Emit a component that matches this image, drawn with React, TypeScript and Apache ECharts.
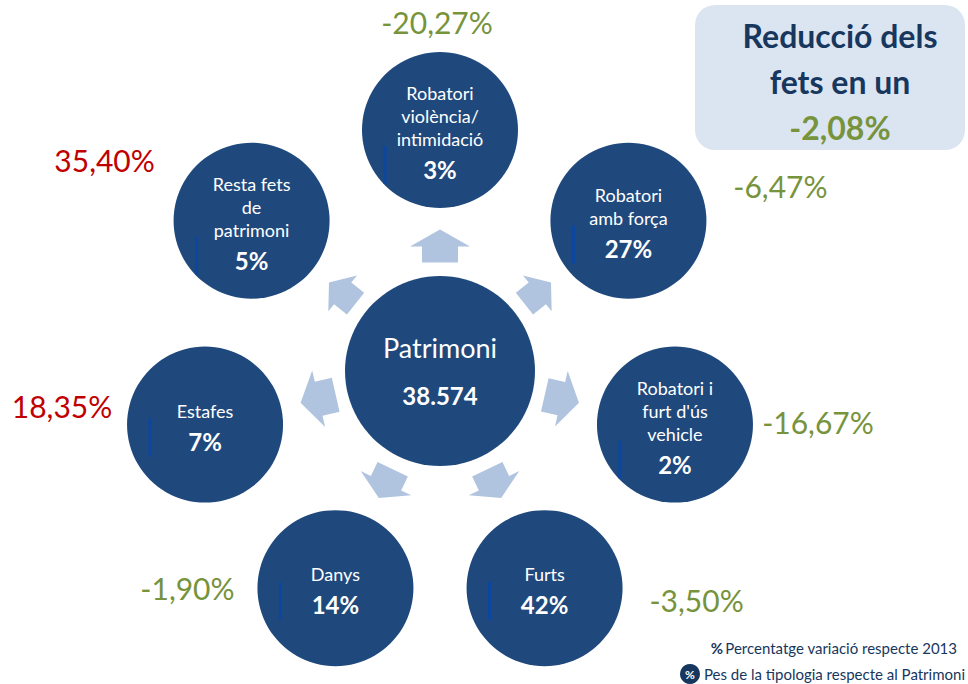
import React, { useEffect, useRef } from 'react';
import * as echarts from 'echarts';

// ---- data ----
const categories = [
  'Robatori\nviolència/\nintimidació',
  'Robatori\namb força',
  "Robatori i\nfurt d'ús\nvehicle",
  'Furts',
  'Danys',
  'Estafes',
  'Resta fets\nde\npatrimoni',
];
const shares = [3, 27, 2, 42, 14, 7, 5];
const changes = [-20.27, -6.47, -16.67, -3.5, -1.9, 18.35, 35.4];
const totalLabel = 'Patrimoni';
const totalFacts = 38574;
const totalChange = -2.08;
const boxTitle = ['Reducció dels', 'fets en un'];
const legendTexts = ['Percentatge variació respecte 2013', 'Pes de la tipologia respecte al Patrimoni'];

// ---- layout ----
const CENTER = [440, 371];
const RING = 241;
const ARROW_R = 125 / 241;
const ARROW_SIZES = [[60, 33], [46, 34], [57, 35], [56, 32], [56, 32], [58, 36], [46, 34]];
const CHANGE_OFFSETS = [[-3, -108], [152, -35], [143, -3], [152, 12], [-148, 0], [-143, -19], [-147, -61]];

const NAVY = '#1F497D';
const ARROW = '#B0C3DF';
const GREEN = '#77933C';
const RED = '#C00000';
const DARK = '#17375E';
const FONT = 'Lato, "Open Sans", sans-serif';

const fmtPct = (v: number) => v.toFixed(2).replace('.', ',') + '%';
const fmtThousands = (n: number) => String(n).replace(/\B(?=(\d{3})+(?!\d))/g, '.');

export default function App() {
  const ref = useRef<HTMLDivElement>(null);
  useEffect(() => {
    if (!ref.current) return;
    const chart = echarts.init(ref.current, undefined, { renderer: 'svg' });
    const step = 360 / categories.length;

    const option: any = {
      animation: false,
      backgroundColor: '#ffffff',
      polar: { center: CENTER, radius: RING },
      angleAxis: {
        type: 'category',
        data: categories,
        boundaryGap: false,
        startAngle: 90,
        clockwise: true,
        show: false,
      },
      radiusAxis: { type: 'value', min: 0, max: 1, show: false },
      series: [
        {
          name: 'arrows',
          type: 'scatter',
          coordinateSystem: 'polar',
          silent: true,
          symbol: 'path://M30,0 L60,17 L48,17 L48,33 L12,33 L12,17 L0,17 Z',
          itemStyle: { color: ARROW, opacity: 1 },
          data: categories.map((_, i) => ({
            value: [ARROW_R, i],
            symbolSize: ARROW_SIZES[i],
            symbolRotate: -i * step,
          })),
        },
        {
          name: 'tipologies',
          type: 'scatter',
          coordinateSystem: 'polar',
          silent: true,
          symbol: 'circle',
          symbolSize: 156,
          itemStyle: { color: NAVY, opacity: 1 },
          label: {
            show: true,
            position: 'inside',
            offset: [0, 5],
            color: '#ffffff',
            fontFamily: FONT,
            formatter: (p: any) => {
              const i = p.dataIndex;
              const lines = categories[i].split('\n').map((l) => `{n|${l}}`);
              return lines.join('\n') + `\n{p|${shares[i]}%}`;
            },
            rich: {
              n: { fontSize: 18, lineHeight: 23, color: '#ffffff', fontFamily: FONT, align: 'center' },
              p: { fontSize: 24, fontWeight: 'bold', lineHeight: 38, color: '#ffffff', fontFamily: FONT, align: 'center' },
            },
          },
          data: categories.map((_, i) => ({ value: [1, i] })),
        },
        {
          name: 'marques',
          type: 'scatter',
          coordinateSystem: 'polar',
          silent: true,
          symbol: 'rect',
          symbolSize: [3, 38],
          itemStyle: { color: '#0B47A1', opacity: 1 },
          data: categories.map((c, i) => ({
            value: [1, i],
            symbolOffset: [-55, 11 * c.split('\n').length + 2],
          })),
        },
        {
          name: 'variacio',
          type: 'scatter',
          coordinateSystem: 'polar',
          silent: true,
          symbolSize: 1,
          itemStyle: { color: 'rgba(0,0,0,0)', opacity: 1 },
          data: categories.map((_, i) => ({
            value: [1, i],
            label: {
              show: true,
              position: 'inside',
              offset: CHANGE_OFFSETS[i],
              formatter: fmtPct(changes[i]),
              color: changes[i] > 0 ? RED : GREEN,
              fontSize: 30,
              fontFamily: FONT,
            },
          })),
        },
        {
          name: 'total',
          type: 'scatter',
          coordinateSystem: 'polar',
          silent: true,
          symbol: 'circle',
          symbolSize: 190,
          itemStyle: { color: NAVY, opacity: 1 },
          label: {
            show: true,
            position: 'inside',
            formatter: `{a|${totalLabel}}\n{b|${fmtThousands(totalFacts)}}`,
            rich: {
              a: { fontSize: 27, lineHeight: 48, color: '#ffffff', fontFamily: FONT, align: 'center' },
              b: { fontSize: 24, fontWeight: 'bold', lineHeight: 48, color: '#ffffff', fontFamily: FONT, align: 'center' },
            },
          },
          data: [{ value: [0, 0] }],
        },
      ],
      graphic: [
        {
          type: 'rect',
          shape: { x: 695, y: 5, width: 270, height: 145, r: 20 },
          style: { fill: '#DBE5F1' },
          silent: true,
        },
        {
          type: 'text',
          x: 840,
          y: 35,
          style: { text: boxTitle[0], font: `bold 32px ${FONT}`, fill: DARK, textAlign: 'center', textVerticalAlign: 'middle', align: 'center', verticalAlign: 'middle' },
        },
        {
          type: 'text',
          x: 840,
          y: 81,
          style: { text: boxTitle[1], font: `bold 32px ${FONT}`, fill: DARK, textAlign: 'center', textVerticalAlign: 'middle', align: 'center', verticalAlign: 'middle' },
        },
        {
          type: 'text',
          x: 840,
          y: 127,
          style: { text: fmtPct(totalChange), font: `bold 32px ${FONT}`, fill: GREEN, textAlign: 'center', textVerticalAlign: 'middle', align: 'center', verticalAlign: 'middle' },
        },
        {
          type: 'text',
          x: 723,
          y: 648,
          style: { text: '%', font: `bold 15px ${FONT}`, fill: DARK, textAlign: 'right', textVerticalAlign: 'middle', align: 'right', verticalAlign: 'middle' },
        },
        {
          type: 'text',
          x: 957,
          y: 648,
          style: { text: legendTexts[0], font: `15px ${FONT}`, fill: DARK, textAlign: 'right', textVerticalAlign: 'middle', align: 'right', verticalAlign: 'middle' },
        },
        {
          type: 'circle',
          shape: { cx: 690, cy: 674, r: 10 },
          style: { fill: DARK },
        },
        {
          type: 'text',
          x: 690,
          y: 674,
          style: { text: '%', font: `bold 12px ${FONT}`, fill: '#ffffff', textAlign: 'center', textVerticalAlign: 'middle', align: 'center', verticalAlign: 'middle' },
        },
        {
          type: 'text',
          x: 965,
          y: 674,
          style: { text: legendTexts[1], font: `15px ${FONT}`, fill: DARK, textAlign: 'right', textVerticalAlign: 'middle', align: 'right', verticalAlign: 'middle' },
        },
      ],
    };
    chart.setOption(option);
    return () => chart.dispose();
  }, []);

  return <div ref={ref} style={{ position: 'fixed', left: 0, top: 0, width: 968, height: 684 }} />;
}
